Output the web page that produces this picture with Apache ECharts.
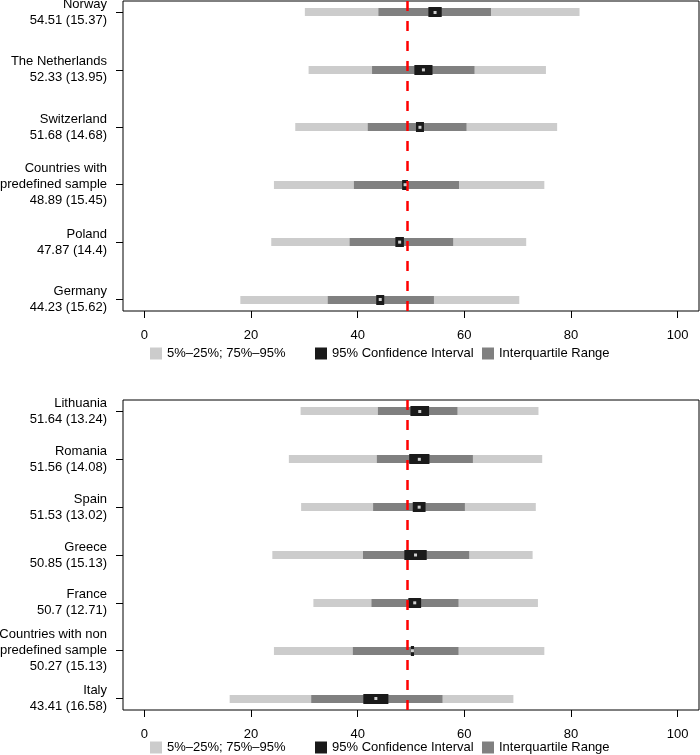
<!DOCTYPE html>
<html>
<head>
<meta charset="utf-8">
<script src="https://cdn.jsdelivr.net/npm/echarts@6/dist/echarts.min.js"></script>
<style>
  html, body { margin: 0; padding: 0; background: #fff; }
  #chart { width: 700px; height: 755px; }
</style>
</head>
<body>
<div id="chart"></div>
<script>
// ---------- data: top panel ----------
const topNames = ['Norway', 'The Netherlands', 'Switzerland', 'Countries with\npredefined sample', 'Poland', 'Germany'];
const topMeans = [54.51, 52.33, 51.68, 48.89, 47.87, 44.23];
const topSds   = [15.37, 13.95, 14.68, 15.45, 14.4, 15.62];
const topP5    = [30.1, 30.8, 28.3, 24.3, 23.8, 18.0];
const topP25   = [43.9, 42.7, 41.9, 39.3, 38.5, 34.4];
const topP75   = [65.0, 61.9, 60.4, 59.0, 57.9, 54.3];
const topP95   = [81.6, 75.3, 77.4, 75.0, 71.6, 70.3];
const topCiLo  = [53.26, 50.63, 50.93, 48.34, 47.07, 43.48];
const topCiHi  = [55.76, 54.03, 52.43, 49.44, 48.67, 44.98];

// ---------- data: bottom panel ----------
const botNames = ['Lithuania', 'Romania', 'Spain', 'Greece', 'France', 'Countries with non\npredefined sample', 'Italy'];
const botMeans = [51.64, 51.56, 51.53, 50.85, 50.7, 50.27, 43.41];
const botSds   = [13.24, 14.08, 13.02, 15.13, 12.71, 15.13, 16.58];
const botP5    = [29.3, 27.1, 29.4, 24.0, 31.7, 24.3, 16.0];
const botP25   = [43.8, 43.6, 42.9, 41.0, 42.6, 39.1, 31.3];
const botP75   = [58.7, 61.6, 60.1, 60.9, 58.9, 58.9, 55.9];
const botP95   = [73.9, 74.6, 73.4, 72.8, 73.8, 75.0, 69.2];
const botCiLo  = [49.89, 49.66, 50.33, 48.75, 49.5, 49.97, 41.06];
const botCiHi  = [53.39, 53.46, 52.73, 52.95, 51.9, 50.57, 45.76];

const xTicks = [0, 20, 40, 60, 80, 100];
const refLine = 49.3;

const legendNames = ['5%\u201325%; 75%\u201395%', '95% Confidence Interval', 'Interquartile Range'];
// -------------------------------------

const FONT = 'Liberation Sans, Arial, Helvetica, sans-serif';
const C_LIGHT = '#cccccc', C_DARK = '#808080', C_CI = '#1a1a1a';

function band(thickness) {
  return function (params, api) {
    const a = api.coord([api.value(0), api.value(2)]);
    const b = api.coord([api.value(1), api.value(2)]);
    return {
      type: 'rect',
      shape: { x: a[0], y: Math.round(a[1] - thickness / 2), width: b[0] - a[0], height: thickness },
      style: { fill: api.visual('color') }
    };
  };
}

function label(names, means, sds) {
  return names.map((n, i) => n + '\n' + String(means[i]) + ' (' + String(sds[i]) + ')');
}

const panels = [
  { names: label(topNames, topMeans, topSds), means: topMeans, p5: topP5, p25: topP25, p75: topP75, p95: topP95, lo: topCiLo, hi: topCiHi, top: 1, legendTop: 347 },
  { names: label(botNames, botMeans, botSds), means: botMeans, p5: botP5, p25: botP25, p75: botP75, p95: botP95, lo: botCiLo, hi: botCiHi, top: 400, legendTop: 741 }
];

const grid = [], xAxis = [], yAxis = [], series = [], legend = [];

panels.forEach((p, k) => {
  const n = p.names.length;
  const rows = p.names.map((_, i) => i + 1);
  grid.push({ left: 123, top: p.top, width: 576, height: 310, show: true, borderColor: '#000', borderWidth: 1,
              backgroundColor: 'transparent', containLabel: false, outerBoundsMode: 'none' });
  xAxis.push({
    type: 'value', gridIndex: k, min: -4, max: 104, position: 'bottom',
    axisLine: { show: false, onZero: false }, splitLine: { show: false },
    axisTick: { show: true, length: 7, customValues: xTicks, lineStyle: { color: '#000' } },
    axisLabel: { customValues: xTicks, margin: 18, color: '#000', fontSize: 13, fontFamily: FONT }
  });
  const ext = (n - 1) * 0.04;
  yAxis.push({
    type: 'value', gridIndex: k, inverse: true, min: 1 - ext, max: n + ext, position: 'left',
    axisLine: { show: false, onZero: false }, splitLine: { show: false },
    axisTick: { show: true, length: 7, customValues: rows, lineStyle: { color: '#000' } },
    axisLabel: {
      customValues: rows, margin: 16, color: '#000', fontSize: 13, fontFamily: FONT, lineHeight: 16, align: 'right',
      formatter: v => p.names[Math.round(v) - 1] || ''
    }
  });
  series.push({
    name: legendNames[0], type: 'custom', xAxisIndex: k, yAxisIndex: k, z: 2,
    itemStyle: { color: C_LIGHT }, renderItem: band(8), encode: { x: [0, 1], y: 2 },
    data: rows.map((r, i) => [p.p5[i], p.p95[i], r])
  });
  series.push({
    name: legendNames[2], type: 'custom', xAxisIndex: k, yAxisIndex: k, z: 3,
    itemStyle: { color: C_DARK }, renderItem: band(8), encode: { x: [0, 1], y: 2 },
    data: rows.map((r, i) => [p.p25[i], p.p75[i], r])
  });
  series.push({
    name: legendNames[1], type: 'custom', xAxisIndex: k, yAxisIndex: k, z: 4,
    itemStyle: { color: C_CI }, renderItem: band(10), encode: { x: [0, 1], y: 2 },
    data: rows.map((r, i) => [p.lo[i], p.hi[i], r])
  });
  series.push({
    name: 'ref' + k, type: 'line', xAxisIndex: k, yAxisIndex: k, z: 5, data: [],
    markLine: {
      silent: true, symbol: 'none', label: { show: false },
      lineStyle: { color: '#ff0000', width: 2.5, type: [10, 10] },
      data: [{ xAxis: refLine }]
    }
  });
  series.push({
    name: 'mean' + k, type: 'scatter', xAxisIndex: k, yAxisIndex: k, z: 6,
    symbol: 'rect', symbolSize: 3, itemStyle: { color: '#ffffff' }, silent: true,
    data: rows.map((r, i) => [p.means[i], r])
  });
  const lefts = [150, 315, 482];
  legendNames.forEach((nm, j) => {
    legend.push({
      data: [{ name: nm, icon: 'rect' }], left: lefts[j], top: p.legendTop, padding: 0,
      itemWidth: 12, itemHeight: 12, itemGap: 0,
      textStyle: { color: '#000', fontSize: 13, fontFamily: FONT }
    });
  });
});

const chart = echarts.init(document.getElementById('chart'), null, { renderer: 'canvas' });
chart.setOption({ animation: false, backgroundColor: '#fff', grid, xAxis, yAxis, series, legend });
</script>
</body>
</html>
